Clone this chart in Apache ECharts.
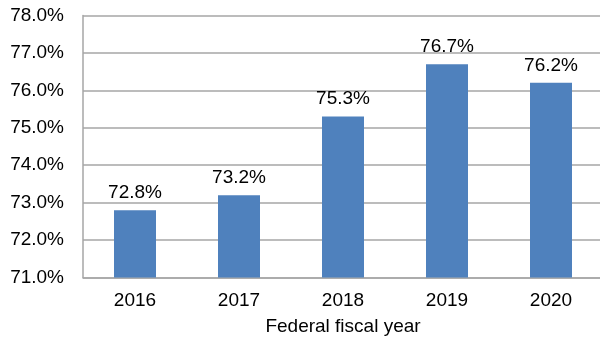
<!DOCTYPE html>
<html>
<head>
<meta charset="utf-8">
<script src="https://cdn.jsdelivr.net/npm/echarts@6/dist/echarts.min.js"></script>
<style>html,body{margin:0;padding:0;background:#fff}#c{width:600px;height:343px}</style>
</head>
<body>
<div id="c"></div>
<script>
const categories = ['2016', '2017', '2018', '2019', '2020'];
const values = [72.8, 73.2, 75.3, 76.7, 76.2];
const xAxisTitle = 'Federal fiscal year';
const yMin = 71, yMax = 78, yStep = 1;

const chart = echarts.init(document.getElementById('c'), null, {renderer: 'canvas'});
const font = 'Liberation Sans, Arial, sans-serif';
const fs = 19;
chart.setOption({
  animation: false,
  grid: {left: 83, right: -3, top: 15.5, bottom: 65.5, containLabel: false, outerBoundsMode: 'none'},
  xAxis: {
    type: 'category',
    data: categories,
    name: xAxisTitle,
    nameLocation: 'middle',
    nameGap: 40,
    nameTextStyle: {fontFamily: font, fontSize: fs, color: '#000'},
    axisLine: {lineStyle: {color: '#A6A6A6', width: 1.5}},
    axisTick: {show: false},
    axisLabel: {fontFamily: font, fontSize: fs, color: '#000', margin: 14}
  },
  yAxis: {
    type: 'value',
    min: yMin, max: yMax, interval: yStep,
    axisLine: {show: true, lineStyle: {color: '#A6A6A6', width: 1.5}},
    axisTick: {show: false},
    splitLine: {lineStyle: {color: '#A6A6A6', width: 1.5}},
    axisLabel: {fontFamily: font, fontSize: fs, color: '#000', margin: 19,
      formatter: v => v.toFixed(1) + '%'}
  },
  series: [{
    type: 'bar',
    data: values,
    barWidth: 42,
    itemStyle: {color: '#4F81BD'},
    label: {show: true, position: 'top', distance: 8, fontFamily: font, fontSize: fs, color: '#000',
      formatter: p => p.value.toFixed(1) + '%'}
  }]
});
</script>
</body>
</html>
